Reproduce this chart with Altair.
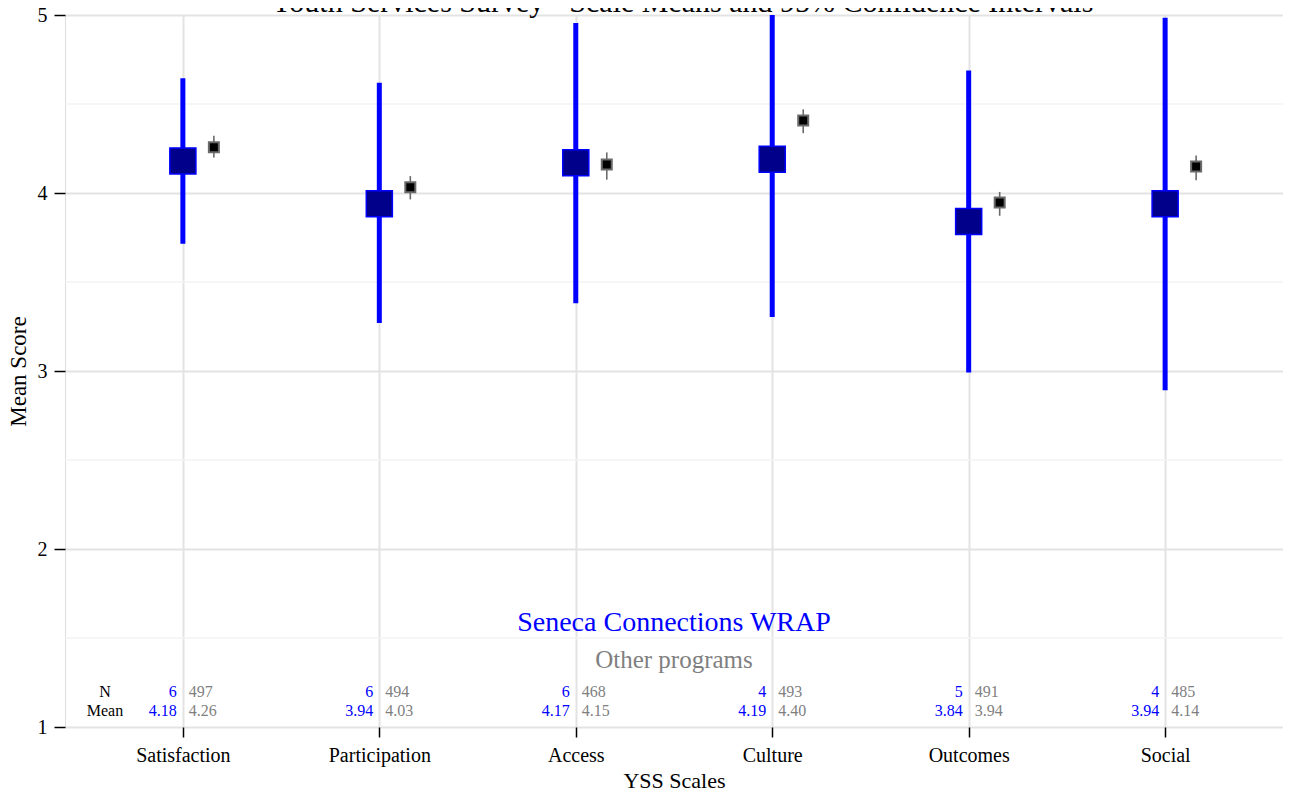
import json
import altair as alt
import pandas as pd

scales = ["Satisfaction", "Participation", "Access", "Culture", "Outcomes", "Social"]
seneca_mean = [4.18, 3.94, 4.17, 4.19, 3.84, 3.94]
seneca_lo = [3.715, 3.27, 3.381, 3.303, 2.992, 2.892]
seneca_hi = [4.644, 4.62, 4.955, 5.077, 4.688, 4.985]
seneca_n = ["6", "6", "6", "4", "5", "4"]
seneca_mean_label = ["4.18", "3.94", "4.17", "4.19", "3.84", "3.94"]
other_mean = [4.257, 4.032, 4.16, 4.408, 3.946, 4.149]
other_lo = [4.199, 3.964, 4.075, 4.336, 3.872, 4.071]
other_hi = [4.321, 4.095, 4.228, 4.47, 4.006, 4.21]
other_n = ["497", "494", "468", "493", "491", "485"]
other_mean_label = ["4.26", "4.03", "4.15", "4.40", "3.94", "4.14"]
y_ticks = [1, 2, 3, 4, 5]
minor_ticks = [1.5, 2.5, 3.5, 4.5]
row_labels = ["N", "Mean"]
legend_labels = ["Seneca Connections WRAP", "Other programs"]
title_text = ["Youth Services Survey - Scale Means and 95% Confidence Intervals"]

W, H = 1218, 712
TOP = 7
FONT = "Liberation Serif"
BLUE = "#0000FF"
GREY = "#7f7f7f"

df = pd.DataFrame({
    "i": list(range(len(scales))),
    "scale": scales,
    "s_mean": seneca_mean, "s_lo": seneca_lo, "s_hi": seneca_hi,
    "s_n": seneca_n, "s_ml": seneca_mean_label,
    "o_mean": other_mean, "o_lo": other_lo, "o_hi": other_hi,
    "o_n": other_n, "o_ml": other_mean_label,
})
minor_df = pd.DataFrame({"v": minor_ticks})

label_expr = json.dumps(scales) + "[datum.value]"

xscale = alt.Scale(domain=[-0.6, len(scales) - 0.4], nice=False, zero=False)
yscale = alt.Scale(domain=[1, 5], nice=False, zero=False)

xax = alt.X("i:Q", scale=xscale, title="YSS Scales",
            axis=alt.Axis(values=list(range(len(scales))), labelExpr=label_expr,
                          grid=True, gridColor="#e3e3e3", gridWidth=2,
                          tickColor="black", tickSize=10, tickWidth=1.5,
                          domain=False, labelFont=FONT, labelFontSize=20,
                          labelColor="black", labelPadding=8,
                          titleFont=FONT, titleFontSize=22, titleFontWeight="normal",
                          titleColor="black", titlePadding=5))

base = alt.Chart(df)

minor = alt.Chart(minor_df).mark_rule(color="#f3f3f3", strokeWidth=1.5).encode(
    y=alt.Y("v:Q", scale=yscale,
            axis=alt.Axis(values=y_ticks, format="d", grid=True, gridColor="#e3e3e3",
                          gridWidth=2, tickColor="black", tickSize=11, tickWidth=1.5,
                          domain=False, labelFont=FONT, labelFontSize=20,
                          labelColor="black", labelPadding=7,
                          title="Mean Score", titleFont=FONT, titleFontSize=23,
                          titleFontWeight="normal", titleColor="black", titlePadding=7)),
)

s_rule = base.mark_rule(color=BLUE, strokeWidth=5, clip=True).encode(
    x=xax, y=alt.Y("s_lo:Q", scale=yscale), y2="s_hi:Q")
s_sq = base.mark_square(size=680, filled=True, fill="#00008B", stroke=BLUE,
                        strokeWidth=1.5, opacity=1).encode(
    x="i:Q", y=alt.Y("s_mean:Q", scale=yscale))

o_rule = base.mark_rule(color="#6a6a6a", strokeWidth=1.6, xOffset=31).encode(
    x="i:Q", y=alt.Y("o_lo:Q", scale=yscale), y2="o_hi:Q")
o_sq = base.mark_square(size=100, filled=True, fill="black", stroke="#6a6a6a",
                        strokeWidth=2, opacity=1, xOffset=31).encode(
    x="i:Q", y=alt.Y("o_mean:Q", scale=yscale))

Y_N = 692 - 8 - TOP
Y_M = 711 - 8 - TOP

txt = dict(font=FONT, fontSize=16, baseline="middle")
s_n_t = base.mark_text(align="right", dx=-6, color=BLUE, **txt).encode(
    x="i:Q", y=alt.value(Y_N), text="s_n:N")
s_m_t = base.mark_text(align="right", dx=-6, color=BLUE, **txt).encode(
    x="i:Q", y=alt.value(Y_M), text="s_ml:N")
o_n_t = base.mark_text(align="left", dx=6, color=GREY, **txt).encode(
    x="i:Q", y=alt.value(Y_N), text="o_n:N")
o_m_t = base.mark_text(align="left", dx=6, color=GREY, **txt).encode(
    x="i:Q", y=alt.value(Y_M), text="o_ml:N")

row_n = alt.Chart(pd.DataFrame({"lab": [row_labels[0]]})).mark_text(
    align="center", color="black", **txt).encode(
    x=alt.value(40), y=alt.value(Y_N), text="lab:N")
row_m = alt.Chart(pd.DataFrame({"lab": [row_labels[1]]})).mark_text(
    align="center", color="black", **txt).encode(
    x=alt.value(40), y=alt.value(Y_M), text="lab:N")

leg1 = alt.Chart(pd.DataFrame({"lab": [legend_labels[0]]})).mark_text(
    align="center", baseline="middle", font=FONT, fontSize=28, color=BLUE).encode(
    x=alt.value(W / 2), y=alt.value(623 - 8 - TOP), text="lab:N")
leg2 = alt.Chart(pd.DataFrame({"lab": [legend_labels[1]]})).mark_text(
    align="center", baseline="middle", font=FONT, fontSize=25, color=GREY).encode(
    x=alt.value(W / 2), y=alt.value(660 - 8 - TOP), text="lab:N")

title = alt.Chart(pd.DataFrame({"lab": title_text})).mark_text(
    align="center", baseline="alphabetic", font=FONT, fontSize=30, color="black").encode(
    x=alt.value(W / 2 + 8), y=alt.value(-3), text="lab:N")

chart = alt.layer(minor, s_rule, s_sq, o_rule, o_sq, s_n_t, s_m_t, o_n_t, o_m_t,
                  row_n, row_m, leg1, leg2, title).properties(
    width=W, height=H,
    padding={"left": 57, "top": TOP, "right": 0, "bottom": 67},
    autosize=alt.AutoSizeParams(type="none"),
).configure_view(stroke=GREY, strokeWidth=1).configure(background="white")

chart.save("out.html", embed_options={"renderer": "svg", "actions": False})
